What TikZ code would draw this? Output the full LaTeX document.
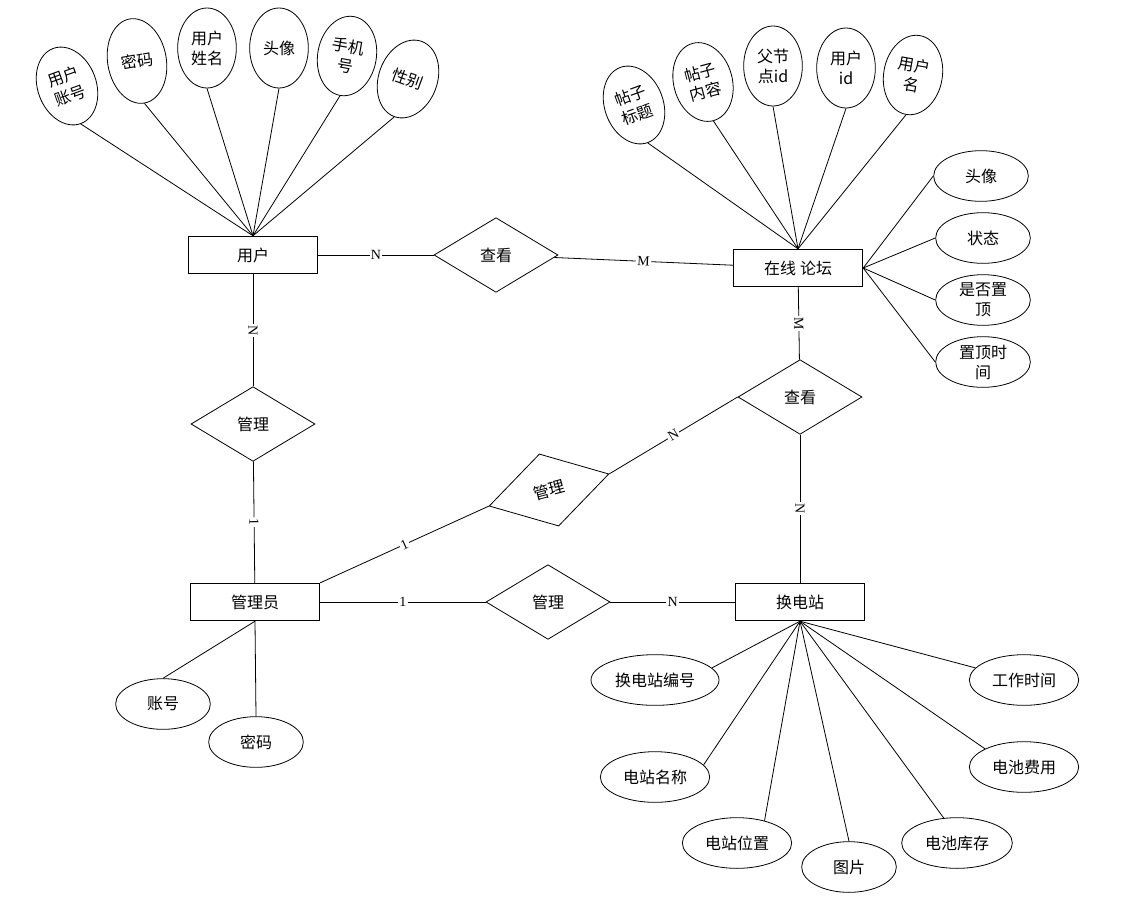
\documentclass[tikz,border=0pt]{standalone}
\usepackage{fontspec}
\setmainfont{Liberation Serif}
\newfontfamily\cjk{Noto Sans CJK SC}
\usetikzlibrary{shapes.geometric}

\tikzset{
  entity/.style={draw, rectangle, line width=0.8pt, minimum width=97pt, minimum height=28pt,
    inner sep=0pt, font=\cjk\fontsize{12}{15}\selectfont},
  relation/.style={draw, diamond, aspect=1.65, minimum width=93pt, minimum height=56pt,
    inner sep=0pt, font=\cjk\fontsize{12}{15}\selectfont},
  attrv/.style={draw, ellipse, minimum width=44pt, minimum height=60pt, inner sep=0pt,
    align=center, font=\cjk\fontsize{12}{15}\selectfont},
  attrh/.style={draw, ellipse, minimum width=71pt, minimum height=38pt, inner sep=0pt,
    align=center, font=\cjk\fontsize{12}{15}\selectfont},
  card/.style={fill=white, inner sep=1pt, sloped, font=\fontsize{10.5}{12}\selectfont}
}

\begin{document}
\begin{tikzpicture}[x=0.75pt, y=-0.75pt, line width=0.6pt]
        \useasboundingbox (0,0) rectangle (1126,914);

        \node[entity] (user) at (253,255) {用户};
        \node[entity] (forum) at (798,268) {在线\hspace{3pt}论坛};
        \node[entity] (admin) at (255,602) {管理员};
        \node[entity] (station) at (800,602) {换电站};

        \node[relation] (view1) at (496,255) {查看};
        \node[relation] (view2) at (800,397) {查看};
        \node[relation] (manage1) at (253,424) {管理};
        \node[relation, rotate=15] (manage2) at (549,490) {管理};
        \node[relation] (manage3) at (548,602) {管理};

        \node[attrv, rotate=20] (uacc) at (67,86) {用户\\账号};
        \node[attrv, rotate=10, minimum height=64pt] (upwd) at (137,61) {密码};
        \node[attrv] (uname) at (207,48) {用户\\姓名};
        \node[attrv] (uhead) at (279,48) {头像};
        \node[attrv, rotate=-10] (uphone) at (347,56) {手机\\号};
        \node[attrv, rotate=-20] (usex) at (408,79) {性别};

        \node[attrv, rotate=20] (ptitle) at (634,105) {帖子\\标题};
        \node[attrv, rotate=15] (pcont) at (703,82) {帖子\\内容};
        \node[attrv] (pparent) at (773,66) {父节\\点id};
        \node[attrv] (puid) at (846,68) {用户\\id};
        \node[attrv, rotate=-10] (puname) at (913,75) {用户\\名};

        \node[attrh] (fhead) at (981,176) {头像};
        \node[attrh] (fstate) at (983,238) {状态};
        \node[attrh] (ftop) at (983,300) {是否置\\顶};
        \node[attrh] (ftime) at (983,362) {置顶时\\间};

        \node[attrh] (aacc) at (163,704) {账号};
        \node[attrh] (apwd) at (256,742) {密码};

        \node[attrh, minimum width=96pt] (sid) at (655,680) {换电站编号};
        \node[attrh, minimum width=82pt] (sname) at (655,777) {电站名称};
        \node[attrh, minimum width=82pt] (sloc) at (737,843) {电站位置};
        \node[attrh] (spic) at (849,867) {图片};
        \node[attrh, minimum width=83pt] (sstock) at (957,843) {电池库存};
        \node[attrh, minimum width=82pt] (sfee) at (1024,767) {电池费用};
        \node[attrh, minimum width=82pt] (swork) at (1024,680) {工作时间};

        \draw (user) -- node[card] {N} (view1);
        \draw (view1) -- node[card] {M} (forum);
        \draw (user) -- node[card] {N} (manage1);
        \draw (manage1) -- node[card] {1} (admin);
        \draw (forum) -- node[card] {M} (view2);
        \draw (view2) -- node[card] {N} (station);
        \draw (view2.west) -- node[card] {N} (manage2.east);
        \draw (manage2.west) -- node[card] {1} (admin.north east);
        \draw (admin) -- node[card] {1} (manage3);
        \draw (manage3) -- node[card] {N} (station);

        \draw (uacc.south) -- (user.north);
        \draw (upwd.south) -- (user.north);
        \draw (uname.south) -- (user.north);
        \draw (uhead.south) -- (user.north);
        \draw (uphone.south) -- (user.north);
        \draw (usex.south) -- (user.north);

        \draw (ptitle.south) -- (forum.north);
        \draw (pcont.south) -- (forum.north);
        \draw (pparent.south) -- (forum.north);
        \draw (puid.south) -- (forum.north);
        \draw (puname.south) -- (forum.north);

        \draw (forum.east) -- (fhead.west);
        \draw (forum.east) -- (fstate.west);
        \draw (forum.east) -- (ftop.west);
        \draw (forum.east) -- (ftime.west);

        \draw (admin.south) -- (aacc.north);
        \draw (admin.south) -- (apwd.north);

        \draw (station.south) -- (sid.12);
        \draw (station.south) -- (sname.14);
        \draw (station.south) -- (sloc.39);
        \draw (station.south) -- (spic.north);
        \draw (station.south) -- (sstock.118);
        \draw (station.south) -- (sfee.155);
        \draw (station.south) -- (swork.166);

\end{tikzpicture}
\end{document}
